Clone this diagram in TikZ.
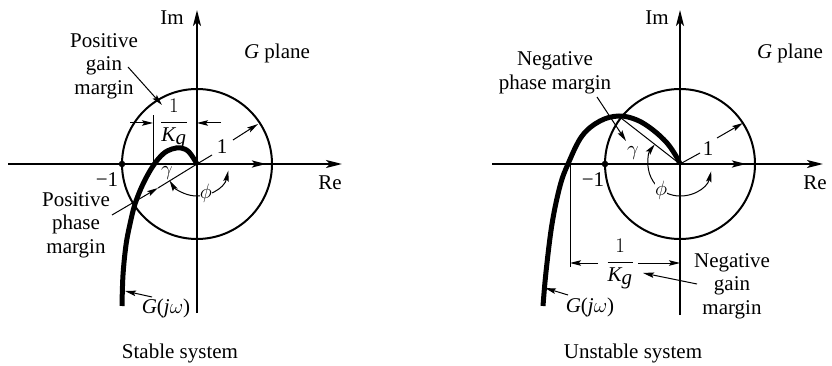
\documentclass[tikz,border=0pt]{standalone}
\usepackage{fontspec}
\setmainfont{Liberation Serif}
\usetikzlibrary{arrows.meta}
\begin{document}
\begin{tikzpicture}[x=1pt,y=1pt,
  axis/.style={line width=2.1pt,-{Stealth[length=16pt,width=8pt,inset=4pt]}},
  unitc/.style={line width=2pt},
  locus/.style={line width=5pt},
  thinline/.style={line width=1pt},
  dimarrow/.style={line width=1pt,-{Stealth[length=11pt,width=5.5pt,inset=2pt]}},
  twoarrow/.style={line width=1pt,{Stealth[length=11pt,width=5.5pt,inset=2pt]}-{Stealth[length=11pt,width=5.5pt,inset=2pt]}},
  axmark/.style={line width=2.1pt,-{Stealth[length=14pt,width=7pt,inset=3pt]}},
  lbl/.style={font=\fontsize{21}{23.5}\selectfont, inner sep=1pt},
  mlbl/.style={lbl, align=center},
  dot/.style={circle, fill=black, inner sep=0pt, minimum size=6.5pt},
  ]
\useasboundingbox (0,0) rectangle (832,-366);

% ================= LEFT: stable =================
\coordinate (O1) at (197,-164);
\coordinate (ReL0) at (8,-164);
\coordinate (ReL1) at (342,-164);
\coordinate (ImL0) at (197,-313);
\coordinate (ImL1) at (197,-10);

% phi arc and label
\draw[twoarrow] ([shift={(-12:32)}]O1) arc[start angle=-12, end angle=-149, radius=32];
\node[lbl, fill=white, inner sep=0.3pt] (phiL) at (206,-193) {$\phi$};

\draw[axis] (ReL0) -- (ReL1);
\draw[axis] (ImL0) -- (ImL1);
\draw[unitc] (O1) circle[radius=75];
\coordinate (mkL0) at (250,-164);
\coordinate (mkL1) at (266,-164);
\draw[axmark] (mkL0) -- (mkL1);

\node[dot] (m1L) at (122,-164) {};
\node[lbl] (m1Ltxt) at (107,-180) {−1};
\node[lbl] (ImLtxt) at (172,-18) {Im};
\node[lbl] (ReLtxt) at (330,-183) {Re};
\node[lbl] (GpL) at (277,-53) {\textit{G} plane};

% locus
\draw[locus] plot[smooth, tension=0.6] coordinates {(122,-306) (123,-275) (126,-245) (130,-224) (135,-204) (143,-184) (153,-166) (163,-154) (172,-149) (181,-148) (189,-152) (197,-164)};

% 1/Kg dimension
\coordinate (KvL0) at (153,-164);
\coordinate (KvL1) at (153,-115);
\draw[thinline] (KvL0) -- (KvL1);
\coordinate (KaL0) at (130,-123);
\coordinate (KaL1) at (153,-123);
\coordinate (KbL0) at (221,-123);
\coordinate (KbL1) at (197,-123);
\draw[dimarrow] (KaL0) -- (KaL1);
\draw[dimarrow] (KbL0) -- (KbL1);
\node[lbl, anchor=base] (KgL) at (174,-127) {$\displaystyle\frac{1}{\textit{K}_{\textit{g}}}$};

% positive gain margin
\node[mlbl] (pgm) at (104,-66) {Positive\\gain\\margin};
\coordinate (pgmA) at (128,-67);
\coordinate (pgmB) at (162,-105);
\draw[dimarrow] (pgmA) -- (pgmB);

% phase line, radius 1
\coordinate (ppA) at (112,-215);
\coordinate (ppB) at (158,-188);
\coordinate (oneLA) at (212,-155);
\draw[dimarrow] (ppA) -- (ppB);
\draw[thinline] (ppB) -- (O1) -- (oneLA);
\node[lbl] (oneL) at (222,-147) {1};
\coordinate (r1A) at (233,-140);
\coordinate (r1B) at (258,-124);
\draw[dimarrow] (r1A) -- (r1B);
\node[lbl] (gamL) at (167,-173) {$\gamma$};

\node[mlbl] (ppm) at (76,-225) {Positive\\phase\\margin};

% G(jw)
\node[lbl] (GjwL) at (166,-308) {\textit{G}(\textit{j}$\omega$)};
\coordinate (GjA) at (152,-297);
\coordinate (GjB) at (125,-291);
\draw[dimarrow] (GjA) -- (GjB);

\node[lbl] (capL) at (180,-353) {Stable system};

% ================= RIGHT: unstable =================
\coordinate (O2) at (680,-164);
\coordinate (ReR0) at (492,-164);
\coordinate (ReR1) at (823,-164);
\coordinate (ImR0) at (680,-315);
\coordinate (ImR1) at (680,-10);

\draw[twoarrow] ([shift={(-13:32)}]O2) arc[start angle=-13, end angle=-218, radius=32];
\node[lbl, fill=white, inner sep=0.3pt] (phiR) at (661,-190) {$\phi$};

\draw[axis] (ReR0) -- (ReR1);
\draw[axis] (ImR0) -- (ImR1);
\draw[unitc] (O2) circle[radius=75];
\coordinate (mkR0) at (730,-164);
\coordinate (mkR1) at (746,-164);
\draw[axmark] (mkR0) -- (mkR1);

\node[dot] (m1R) at (605,-164) {};
\node[lbl] (m1Rtxt) at (593,-180) {−1};
\node[lbl] (ImRtxt) at (657,-18) {Im};
\node[lbl] (ReRtxt) at (815,-183) {Re};
\node[lbl] (GpR) at (790,-53) {\textit{G} plane};

\draw[locus] plot[smooth, tension=0.6] coordinates {(543,-306) (546,-272) (552,-224) (560,-186) (568,-164) (582,-136) (600,-121) (619,-116) (637,-120) (653,-130) (667,-143) (676,-156) (680,-164)};

% phase line
\coordinate (phR) at (621,-118);
\draw[thinline] (O2) -- (phR);
\coordinate (oneRA) at (700,-153);
\draw[thinline] (O2) -- (oneRA);
\node[lbl] (oneR) at (708,-149) {1};
\coordinate (r2A) at (717,-138);
\coordinate (r2B) at (743,-123);
\draw[dimarrow] (r2A) -- (r2B);
\node[lbl] (gamR) at (633,-153) {$\gamma$};

\node[mlbl] (npm) at (555,-73) {Negative\\phase margin};
\coordinate (npA) at (597,-97);
\coordinate (npB) at (626,-141);
\draw[dimarrow] (npA) -- (npB);

% 1/Kg dimension
\coordinate (KvR0) at (570,-164);
\coordinate (KvR1) at (570,-267);
\draw[thinline] (KvR0) -- (KvR1);
\coordinate (KaR0) at (598,-263);
\coordinate (KaR1) at (570,-263);
\coordinate (KbR0) at (638,-263);
\coordinate (KbR1) at (680,-263);
\draw[dimarrow] (KaR0) -- (KaR1);
\draw[dimarrow] (KbR0) -- (KbR1);
\node[lbl, anchor=base] (KgR) at (620,-267) {$\displaystyle\frac{1}{\textit{K}_{\textit{g}}}$};

\node[mlbl] (ngm) at (732,-286) {Negative\\gain\\margin};
\coordinate (ngA) at (697,-284);
\coordinate (ngB) at (643,-273);
\draw[dimarrow] (ngA) -- (ngB);

\node[lbl] (GjwR) at (590,-307) {\textit{G}(\textit{j}$\omega$)};
\coordinate (GjRA) at (568,-295);
\coordinate (GjRB) at (545,-288);
\draw[dimarrow] (GjRA) -- (GjRB);

\node[lbl] (capR) at (633,-353) {Unstable system};
\end{tikzpicture}
\end{document}
